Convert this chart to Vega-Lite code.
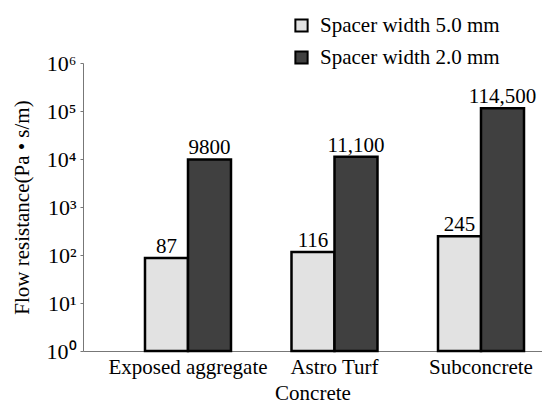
{
  "$schema": "https://vega.github.io/schema/vega-lite/v6.json",
  "autosize": {"type": "none"},
  "padding": {"left": 83, "top": 63, "right": 0, "bottom": 53},
  "width": 459,
  "height": 288,
  "config": {
    "font": "Liberation Serif",
    "view": {"stroke": null},
    "axis": {"labelFont": "Liberation Serif", "titleFont": "Liberation Serif", "labelColor": "#000", "titleColor": "#000", "titleFontWeight": "normal", "domainColor": "#777", "tickColor": "#777"}
  },
  "data": {
    "values": [
      {"surface": "Exposed aggregate", "series": "Spacer width 5.0 mm", "value": 87, "label": "87"},
      {"surface": "Exposed aggregate", "series": "Spacer width 2.0 mm", "value": 9800, "label": "9800"},
      {"surface": "Astro Turf", "series": "Spacer width 5.0 mm", "value": 116, "label": "116"},
      {"surface": "Astro Turf", "series": "Spacer width 2.0 mm", "value": 11100, "label": "11,100"},
      {"surface": "Subconcrete", "series": "Spacer width 5.0 mm", "value": 245, "label": "245"},
      {"surface": "Subconcrete", "series": "Spacer width 2.0 mm", "value": 114500, "label": "114,500"}
    ]
  },
  "encoding": {
    "x": {
      "field": "surface", "type": "nominal", "sort": ["Exposed aggregate", "Astro Turf", "Subconcrete"],
      "scale": {"paddingInner": 0.413, "paddingOuter": 0.273, "align": 0.775},
      "axis": {"title": "Concrete", "labelAngle": 0, "labelFontSize": 21, "titleFontSize": 21, "ticks": false, "labelPadding": 5, "titlePadding": 5, "labelLimit": 300}
    },
    "xOffset": {"field": "series", "type": "nominal", "sort": ["Spacer width 5.0 mm", "Spacer width 2.0 mm"]},
    "y": {
      "field": "value", "type": "quantitative",
      "scale": {"type": "log", "domain": [1, 1000000]},
      "axis": {
        "title": "Flow resistance(Pa • s/m)", "titleFontSize": 21, "labelFontSize": 22, "tickSize": 3, "grid": false,
        "values": [1, 10, 100, 1000, 10000, 100000, 1000000],
        "labelExpr": "'10' + ['⁰','¹','²','³','⁴','⁵','⁶'][round(log(datum.value)/LN10)]",
        "labelPadding": 4, "titlePadding": 14
      }
    }
  },
  "layer": [
    {
      "mark": {"type": "bar", "stroke": "#000", "strokeWidth": 2.5},
      "encoding": {
        "y2": {"datum": 1},
        "fill": {
          "field": "series", "type": "nominal",
          "scale": {"domain": ["Spacer width 5.0 mm", "Spacer width 2.0 mm"], "range": ["#e2e2e2", "#404040"]},
          "legend": {
            "title": null, "orient": "none", "legendX": 208, "legendY": -48,
            "symbolType": "square", "symbolSize": 150, "symbolStrokeColor": "#000", "symbolStrokeWidth": 2,
            "labelFont": "Liberation Serif", "labelFontSize": 21, "labelColor": "#000", "rowPadding": 10, "labelOffset": 8, "labelLimit": 300
          }
        }
      }
    },
    {
      "mark": {"type": "text", "baseline": "bottom", "dy": -1, "fontSize": 21, "font": "Liberation Serif", "color": "#000"},
      "encoding": {"text": {"field": "label"}}
    }
  ]
}
